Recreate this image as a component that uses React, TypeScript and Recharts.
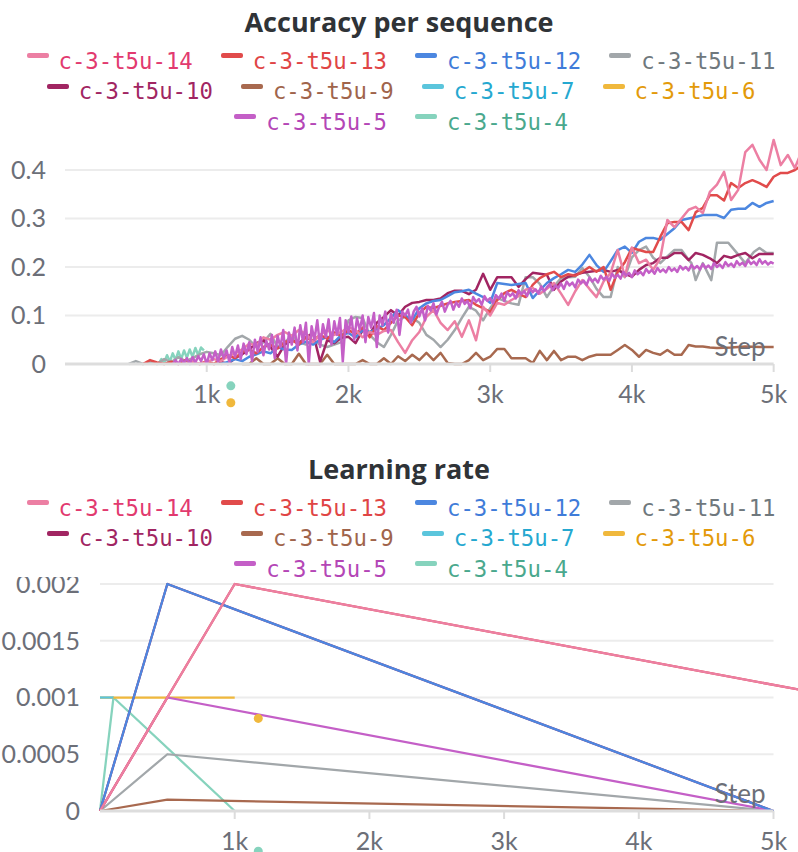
import React from 'react';
import { LineChart, Line, XAxis, YAxis, ReferenceLine, ReferenceDot } from 'recharts';

type Pt = [number, number];

const runNames = ['c-3-t5u-14', 'c-3-t5u-13', 'c-3-t5u-12', 'c-3-t5u-11', 'c-3-t5u-10', 'c-3-t5u-9', 'c-3-t5u-7', 'c-3-t5u-6', 'c-3-t5u-5', 'c-3-t5u-4'];
const lineColors = ['#EC7FA3', '#E14B4B', '#4C87E0', '#A2A7AA', '#A12562', '#A8694F', '#5BC5DC', '#F0B83C', '#C45FC7', '#86D3BD'];
const textColors = ['#E23A6F', '#E04545', '#3F7CD9', '#6F787D', '#A12562', '#A0644B', '#25A8D0', '#E39A0A', '#B446B6', '#4AA88D'];

// ---- Accuracy per sequence ----
const acc14: Pt[] = [[850,0],[900,0.005],[950,0],[1000,0.004],[1050,0.01],[1100,0.006],[1150,0.016],[1200,0.022],[1250,0.03],[1300,0.042],[1350,0.038],[1400,0.055],[1450,0.05],[1500,0.06],[1550,0.066],[1600,0.058],[1650,0.07],[1700,0.062],[1750,0.045],[1800,0.06],[1850,0.07],[1900,0.06],[1950,0.066],[2000,0.076],[2050,0.07],[2100,0.055],[2150,0.066],[2200,0.06],[2250,0.068],[2300,0.07],[2350,0.045],[2400,0.023],[2450,0.049],[2500,0.066],[2550,0.097],[2600,0.111],[2650,0.085],[2700,0.07],[2750,0.088],[2800,0.056],[2850,0.09],[2900,0.049],[2950,0.118],[3000,0.1],[3050,0.126],[3100,0.122],[3150,0.132],[3200,0.14],[3250,0.153],[3300,0.157],[3350,0.145],[3400,0.155],[3450,0.167],[3500,0.145],[3550,0.122],[3600,0.15],[3650,0.173],[3700,0.155],[3750,0.138],[3800,0.17],[3850,0.188],[3900,0.235],[3950,0.18],[4000,0.24],[4050,0.208],[4100,0.215],[4150,0.194],[4200,0.218],[4250,0.297],[4300,0.282],[4350,0.3],[4400,0.318],[4450,0.324],[4500,0.311],[4550,0.355],[4600,0.37],[4650,0.396],[4700,0.338],[4750,0.359],[4800,0.437],[4850,0.452],[4900,0.421],[4950,0.4],[5000,0.462],[5050,0.41],[5100,0.431],[5150,0.404],[5200,0.44]];
const acc13: Pt[] = [[550,0],[600,0.008],[650,0.003],[700,0],[750,0.005],[800,0],[850,0.008],[900,0.003],[950,0],[1000,0.006],[1050,0],[1100,0.01],[1150,0.018],[1200,0.012],[1250,0.025],[1300,0.03],[1350,0.022],[1400,0.035],[1450,0.04],[1500,0.032],[1550,0.045],[1600,0.05],[1650,0.04],[1700,0.055],[1750,0.048],[1800,0.06],[1850,0.052],[1900,0.065],[1950,0.058],[2000,0.07],[2050,0.062],[2100,0.075],[2150,0.055],[2200,0.078],[2250,0.07],[2300,0.085],[2350,0.1],[2400,0.097],[2450,0.08],[2500,0.105],[2550,0.118],[2600,0.115],[2650,0.12],[2700,0.125],[2750,0.128],[2800,0.13],[2850,0.132],[2900,0.122],[2950,0.115],[3000,0.107],[3050,0.132],[3100,0.146],[3150,0.153],[3200,0.145],[3250,0.138],[3300,0.163],[3350,0.177],[3400,0.185],[3450,0.19],[3500,0.179],[3550,0.185],[3600,0.182],[3650,0.19],[3700,0.2],[3750,0.19],[3800,0.2],[3850,0.153],[3900,0.19],[3950,0.21],[4000,0.239],[4050,0.235],[4100,0.231],[4150,0.231],[4200,0.262],[4250,0.29],[4300,0.293],[4350,0.293],[4400,0.276],[4450,0.313],[4500,0.322],[4550,0.348],[4600,0.348],[4650,0.337],[4700,0.373],[4750,0.363],[4800,0.373],[4850,0.379],[4900,0.373],[4950,0.365],[5000,0.386],[5050,0.394],[5100,0.394],[5150,0.4],[5200,0.41]];
const acc12: Pt[] = [[1100,0],[1150,0.004],[1200,0.01],[1250,0.006],[1300,0.015],[1350,0.02],[1400,0.026],[1450,0.022],[1500,0.035],[1550,0.03],[1600,0.029],[1650,0.04],[1700,0.046],[1750,0.04],[1800,0.05],[1850,0.056],[1900,0.045],[1950,0.06],[2000,0.064],[2050,0.055],[2100,0.07],[2150,0.066],[2200,0.072],[2250,0.08],[2300,0.095],[2350,0.111],[2400,0.1],[2450,0.09],[2500,0.115],[2550,0.125],[2600,0.13],[2650,0.132],[2700,0.14],[2750,0.148],[2800,0.15],[2850,0.153],[2900,0.145],[2950,0.138],[3000,0.126],[3050,0.167],[3100,0.165],[3150,0.163],[3200,0.165],[3250,0.167],[3300,0.136],[3350,0.152],[3400,0.167],[3450,0.177],[3500,0.185],[3550,0.194],[3600,0.19],[3650,0.205],[3700,0.225],[3750,0.204],[3800,0.19],[3850,0.212],[3900,0.235],[3950,0.242],[4000,0.229],[4050,0.252],[4100,0.26],[4150,0.26],[4200,0.256],[4250,0.268],[4300,0.28],[4350,0.297],[4400,0.3],[4450,0.303],[4500,0.307],[4550,0.307],[4600,0.307],[4650,0.301],[4700,0.318],[4750,0.32],[4800,0.32],[4850,0.332],[4900,0.324],[4950,0.332],[5000,0.336]];
const acc11: Pt[] = [[450,0],[500,0.006],[550,0],[600,0.004],[650,0],[700,0.01],[750,0.004],[800,0.014],[850,0.006],[900,0.012],[950,0.02],[1000,0.025],[1050,0.022],[1100,0.018],[1150,0.036],[1200,0.052],[1250,0.058],[1300,0.05],[1350,0.035],[1400,0.045],[1450,0.062],[1500,0.035],[1550,0.045],[1600,0.058],[1650,0.045],[1700,0.04],[1750,0.05],[1800,0.04],[1850,0.035],[1900,0.04],[1950,0.045],[2000,0.09],[2050,0.097],[2100,0.095],[2150,0.06],[2200,0.045],[2250,0.035],[2300,0.06],[2350,0.09],[2400,0.097],[2450,0.095],[2500,0.085],[2550,0.06],[2600,0.05],[2650,0.035],[2700,0.05],[2750,0.07],[2800,0.095],[2850,0.118],[2900,0.11],[2950,0.09],[3000,0.115],[3050,0.136],[3100,0.13],[3150,0.125],[3200,0.122],[3250,0.179],[3300,0.179],[3350,0.165],[3400,0.138],[3450,0.16],[3500,0.177],[3550,0.179],[3600,0.18],[3650,0.198],[3700,0.18],[3750,0.155],[3800,0.138],[3850,0.138],[3900,0.2],[3950,0.179],[4000,0.22],[4050,0.235],[4100,0.242],[4150,0.219],[4200,0.208],[4250,0.222],[4300,0.235],[4350,0.235],[4400,0.215],[4420,0.208],[4450,0.173],[4500,0.208],[4560,0.173],[4600,0.25],[4680,0.25],[4740,0.229],[4800,0.208],[4860,0.231],[4900,0.239],[4950,0.229],[5000,0.229]];
const acc10: Pt[] = [[1050,0],[1100,0.004],[1150,0],[1200,0.012],[1250,0.02],[1300,0.03],[1350,0.043],[1400,0.049],[1450,0.035],[1500,0.015],[1550,0.04],[1600,0.049],[1650,0.043],[1700,0.055],[1750,0.064],[1800,0.005],[1850,0.049],[1900,0.043],[1950,0.054],[2000,0.056],[2050,0.043],[2100,0.07],[2150,0.062],[2200,0.085],[2250,0.097],[2300,0.111],[2350,0.1],[2400,0.118],[2450,0.126],[2500,0.128],[2550,0.132],[2600,0.132],[2650,0.135],[2700,0.146],[2750,0.151],[2800,0.151],[2850,0.144],[2900,0.153],[2950,0.186],[3000,0.153],[3050,0.179],[3100,0.179],[3150,0.179],[3200,0.159],[3250,0.175],[3300,0.188],[3350,0.186],[3400,0.184],[3450,0.153],[3500,0.17],[3550,0.18],[3600,0.184],[3650,0.188],[3700,0.19],[3750,0.192],[3800,0.194],[3850,0.19],[3900,0.194],[3950,0.186],[4000,0.18],[4050,0.194],[4100,0.204],[4150,0.208],[4200,0.219],[4250,0.219],[4300,0.229],[4350,0.229],[4400,0.214],[4450,0.229],[4500,0.225],[4550,0.218],[4600,0.208],[4650,0.223],[4700,0.219],[4750,0.225],[4800,0.229],[4850,0.218],[4900,0.227],[4950,0.227],[5000,0.227]];
const acc9: Pt[] = [[1250,0],[1300,0],[1350,0.012],[1400,0],[1450,0],[1500,0.012],[1550,0],[1600,0],[1650,0.021],[1700,0],[1750,0],[1800,0],[1850,0.019],[1900,0],[1950,0],[2000,0],[2050,0],[2100,0.008],[2150,0],[2200,0],[2250,0.012],[2300,0],[2350,0.016],[2400,0.006],[2450,0.019],[2500,0.008],[2550,0.023],[2600,0.008],[2650,0.023],[2700,0.002],[2750,0],[2800,0],[2850,0.008],[2900,0.023],[2950,0.008],[3000,0.015],[3050,0.031],[3100,0.031],[3150,0.012],[3200,0.012],[3250,0.012],[3300,0.002],[3350,0.027],[3400,0.008],[3450,0.027],[3500,0.008],[3550,0.015],[3600,0.015],[3650,0.008],[3700,0.015],[3750,0.019],[3800,0.019],[3850,0.019],[3900,0.029],[3950,0.039],[4000,0.029],[4050,0.015],[4100,0.029],[4150,0.023],[4200,0.019],[4250,0.029],[4300,0.019],[4350,0.019],[4400,0.039],[4450,0.036],[4500,0.036],[4550,0.034],[4600,0.033],[4700,0.034],[4800,0.036],[4900,0.035],[5000,0.035]];
const acc7: Pt[] = [[880,0],[920,0.002]];
const acc6: Pt[] = [[820,0],[850,0.008],[880,0.002],[900,0.006]];
const acc5: Pt[] = [[760,0],[780,0.008],[800,0],[820,0.01],[840,0.002],[860,0.012],[880,0],[900,0.014],[920,0.003],[940,0.016],[960,0.006],[980,0.02],[1000,0],[1020,0.022],[1040,0.008],[1060,0.026],[1080,0.004],[1100,0.03],[1120,0.012],[1140,0.028],[1160,0.004],[1180,0.035],[1200,0.015],[1220,0.038],[1240,0.01],[1260,0.042],[1280,0.02],[1300,0.045],[1320,0.006],[1340,0.05],[1360,0.025],[1380,0.055],[1400,0.018],[1420,0.048],[1440,0.03],[1460,0.06],[1480,0.012],[1500,0.058],[1520,0.035],[1540,0.07],[1560,0],[1580,0.065],[1600,0.04],[1620,0.075],[1640,0.028],[1660,0.08],[1680,0.045],[1700,0.085],[1720,0],[1740,0.078],[1760,0.05],[1780,0.09],[1800,0.035],[1820,0.082],[1840,0.055],[1860,0.092],[1880,0.04],[1900,0.088],[1920,0.06],[1940,0.095],[1960,0.005],[1980,0.09],[2000,0.065],[2020,0.098],[2040,0.05],[2060,0.094],[2080,0.07],[2100,0.1],[2120,0.045],[2140,0.097],[2160,0.075],[2180,0.105],[2200,0.035],[2220,0.1],[2240,0.08],[2260,0.108],[2280,0.065],[2300,0.104],[2320,0.085],[2340,0.112],[2360,0.06],[2380,0.108],[2400,0.1],[2420,0.112],[2440,0.085],[2460,0.108],[2480,0.118],[2500,0.098],[2520,0.115],[2540,0.09],[2560,0.12],[2580,0.11],[2600,0.125],[2620,0.102],[2640,0.118],[2660,0.128],[2680,0.108],[2700,0.122],[2720,0.13],[2740,0.112],[2760,0.127],[2780,0.118],[2800,0.135],[2820,0.124],[2840,0.13],[2860,0.115],[2880,0.138],[2900,0.128],[2920,0.134],[2940,0.122],[2960,0.14],[2980,0.13],[3000,0.136],[3020,0.125],[3040,0.142],[3060,0.135],[3080,0.145],[3100,0.13],[3120,0.148],[3140,0.14],[3160,0.146],[3180,0.135],[3200,0.152],[3220,0.144],[3240,0.15],[3260,0.14],[3280,0.156],[3300,0.148],[3320,0.154],[3340,0.145],[3360,0.16],[3380,0.15],[3400,0.158],[3420,0.165],[3440,0.152],[3460,0.162],[3480,0.157],[3500,0.166],[3520,0.155],[3540,0.17],[3560,0.162],[3580,0.168],[3600,0.158],[3620,0.174],[3640,0.166],[3660,0.172],[3680,0.163],[3700,0.178],[3720,0.17],[3740,0.176],[3760,0.168],[3780,0.182],[3800,0.174],[3820,0.18],[3840,0.171],[3860,0.186],[3880,0.178],[3900,0.184],[3920,0.176],[3940,0.19],[3960,0.182],[3980,0.188],[4000,0.179],[4020,0.193],[4040,0.185],[4060,0.19],[4080,0.183],[4100,0.196],[4120,0.188],[4140,0.194],[4160,0.186],[4180,0.198],[4200,0.19],[4220,0.195],[4240,0.189],[4260,0.2],[4280,0.192],[4300,0.197],[4320,0.19],[4340,0.202],[4360,0.195],[4380,0.2],[4400,0.193],[4420,0.204],[4440,0.197],[4460,0.202],[4480,0.195],[4500,0.206],[4520,0.198],[4540,0.203],[4560,0.196],[4580,0.208],[4600,0.2],[4620,0.205],[4640,0.198],[4660,0.21],[4680,0.202],[4700,0.207],[4720,0.2],[4740,0.212],[4760,0.204],[4780,0.209],[4800,0.202],[4820,0.214],[4840,0.206],[4860,0.211],[4880,0.204],[4900,0.216],[4920,0.207],[4940,0.212],[4960,0.205],[4980,0.21],[5000,0.207]];
const acc4: Pt[] = [[660,0],[680,0.01],[700,0.003],[720,0.018],[740,0.005],[760,0.022],[780,0.008],[800,0.026],[820,0.01],[840,0.028],[860,0.013],[880,0.03],[900,0.015],[920,0.033],[940,0.018],[960,0.034],[980,0.028]];

// ---- Learning rate ----
const lr14: Pt[] = [[0,0],[1000,0.002],[10000,0]];
const lr13: Pt[] = [[0,0],[1000,0.002],[10000,0]];
const lr12: Pt[] = [[0,0],[500,0.002],[5000,0]];
const lr11: Pt[] = [[0,0],[500,0.0005],[5000,0]];
const lr10: Pt[] = [[0,0],[500,0.002],[5000,0]];
const lr9: Pt[] = [[0,0],[500,0.0001],[5000,0]];
const lr7: Pt[] = [[0,0.001],[100,0.001]];
const lr6: Pt[] = [[0,0.001],[1000,0.001]];
const lr5: Pt[] = [[0,0],[500,0.001],[5000,0]];
const lr4: Pt[] = [[0,0],[100,0.001],[1000,0]];

const accYTicks = [0, 0.1, 0.2, 0.3, 0.4];
const lrYTicks = [0, 0.0005, 0.001, 0.0015, 0.002];
const xTicks = [1000, 2000, 3000, 4000, 5000];
const xTickLabels = ['1k', '2k', '3k', '4k', '5k'];

// hover markers (step, value, run index)
const accHover: [number, number, number][] = [[1170, -0.045, 9], [1170, -0.08, 7]];
const lrHover: [number, number, number][] = [[1175, 0.000816, 7], [1175, -0.000354, 9]];

const accSeries = [acc14, acc13, acc12, acc11, acc10, acc9, acc7, acc6, acc5, acc4];
const lrSeries = [lr14, lr13, lr12, lr11, lr10, lr9, lr7, lr6, lr5, lr4];
const accOrder = [9, 6, 7, 5, 3, 4, 2, 1, 0, 8];
const lrOrder = [9, 7, 6, 5, 4, 3, 8, 2, 1, 0];

const AXIS_FONT = 'Lato, "Open Sans", sans-serif';
const TITLE_FONT = '"Open Sans", Lato, sans-serif';
const TICK_COLOR = '#6c6f78';

type PanelProps = {
  top: number;
  title: string;
  series: Pt[][];
  order: number[];
  yTicks: number[];
  yMax: number;
  yWidth: number;
  yMargin: number;
  xMax: number;
  chartWidth: number;
  chartHeight: number;
  hover: [number, number, number][];
  strokeWidth: number;
};

function Panel(p: PanelProps) {
  return (
    <div style={{ position: 'absolute', left: 0, top: p.top, width: 798, height: 447, overflow: 'hidden' }}>
      <svg width={798} height={44} style={{ position: 'absolute', left: 0, top: 0 }}>
        <text x={399} y={32} textAnchor="middle" fontFamily={TITLE_FONT} fontWeight={700} fontSize={27} fill="#2f3337">
          {p.title}
        </text>
      </svg>
      <div
        style={{
          position: 'absolute', left: 0, top: 45.5, width: 798, display: 'flex', flexWrap: 'wrap',
          justifyContent: 'center', paddingLeft: 4, boxSizing: 'border-box',
        }}
      >
        {runNames.map((n, i) => (
          <div key={n} style={{ display: 'flex', alignItems: 'center', margin: '0 14px', height: 30.5 }}>
            <span
              style={{
                display: 'inline-block', width: 22, height: 5, borderRadius: 2, background: lineColors[i],
                position: 'relative', top: -5, marginRight: 10,
              }}
            />
            <span
              style={{
                fontFamily: '"DejaVu Sans Mono", monospace', fontSize: 22.3, lineHeight: '30.5px',
                color: textColors[i], whiteSpace: 'pre',
              }}
            >
              {n}
            </span>
          </div>
        ))}
      </div>
      <div style={{ position: 'absolute', left: 0, top: 130, width: 798, height: p.chartHeight, overflow: 'hidden' }}>
        <LineChart width={p.chartWidth} height={p.chartHeight} margin={{ top: 7, right: 0, bottom: p.chartHeight - 275, left: 0 }}>
          <XAxis
            type="number"
            dataKey="s"
            domain={[0, p.xMax]}
            ticks={xTicks}
            interval={0}
            tickFormatter={(v: number) => xTickLabels[xTicks.indexOf(v)]}
            height={41}
            axisLine={false}
            tickLine={{ stroke: '#dcdcdc', strokeWidth: 2 }}
            tickSize={8}
            tickMargin={13}
            tick={{ fill: TICK_COLOR, fontSize: 25, fontFamily: AXIS_FONT }}
          />
          <YAxis
            type="number"
            dataKey="v"
            domain={[0, p.yMax]}
            ticks={p.yTicks}
            interval={0}
            width={p.yWidth}
            axisLine={false}
            tickLine={false}
            tickSize={0}
            tickMargin={p.yMargin}
            tick={{ fill: TICK_COLOR, fontSize: 25, fontFamily: AXIS_FONT }}
          />
          {p.yTicks.slice(1).map((t) => (
            <ReferenceLine key={t} segment={[{ x: 0, y: t }, { x: 5000, y: t }]} stroke="#ececec" strokeWidth={2} />
          ))}
          {p.order.map((i) => (
            <Line
              key={runNames[i]}
              name={runNames[i]}
              data={p.series[i].map(([s, v]) => ({ s, v }))}
              dataKey="v"
              type="linear"
              stroke={lineColors[i]}
              strokeWidth={p.strokeWidth}
              strokeLinejoin="round"
              dot={false}
              activeDot={false}
              isAnimationActive={false}
            />
          ))}
          <ReferenceLine
            segment={[{ x: 0, y: 0 }, { x: 5000, y: 0 }]}
            stroke="#dddddd"
            strokeWidth={3}
            label={{ value: 'Step', position: 'insideBottomRight', offset: 8, fill: TICK_COLOR, fontSize: 26, fontFamily: AXIS_FONT }}
          />
          {p.hover.map(([s, v, i], k) => (
            <ReferenceDot key={k} x={s} y={v} r={4.5} fill={lineColors[i]} stroke="none" ifOverflow="visible" />
          ))}
        </LineChart>
      </div>
    </div>
  );
}

export default function App() {
  return (
    <div style={{ position: 'absolute', left: 0, top: 0, width: 798, height: 852, overflow: 'hidden', background: '#fff' }}>
      <Panel
        top={0}
        title="Accuracy per sequence"
        series={accSeries}
        order={accOrder}
        yTicks={accYTicks}
        yMax={0.468}
        yWidth={65}
        yMargin={19}
        xMax={5200}
        chartWidth={802}
        chartHeight={285}
        hover={accHover}
        strokeWidth={2.5}
      />
      <Panel
        top={447}
        title="Learning rate"
        series={lrSeries}
        order={lrOrder}
        yTicks={lrYTicks}
        yMax={0.002}
        yWidth={100}
        yMargin={20}
        xMax={10000}
        chartWidth={1447}
        chartHeight={275}
        hover={lrHover}
        strokeWidth={2.25}
      />
    </div>
  );
}
